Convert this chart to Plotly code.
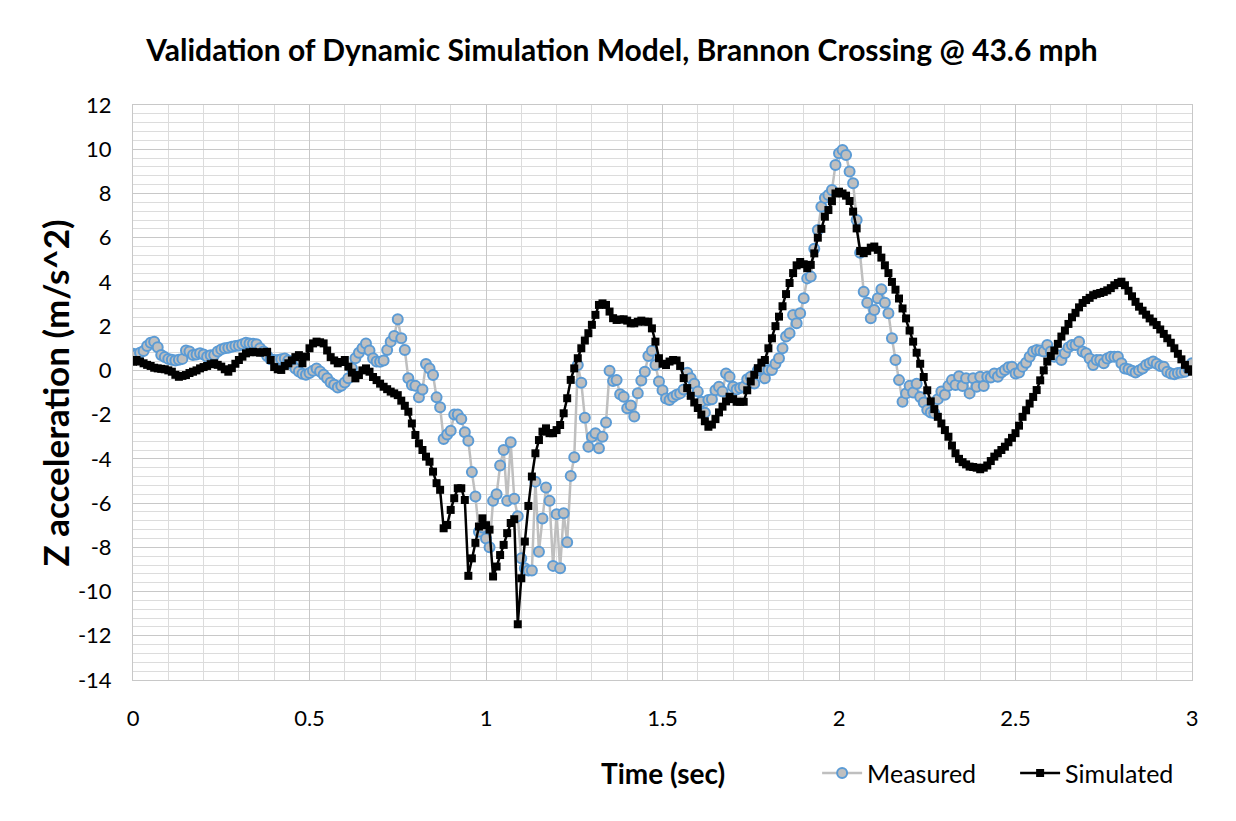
import plotly.graph_objects as go

# time base: samples every 0.01 s from 0 to 3 s
time_s = [round(i * 0.01, 2) for i in range(301)]

# measured z acceleration (m/s^2)
measured = [
    0.75, 0.72, 0.80, 0.88, 1.10, 1.25, 1.30, 1.05, 0.70, 0.60,
    0.52, 0.48, 0.45, 0.48, 0.52, 0.90, 0.85, 0.70, 0.72, 0.77,
    0.72, 0.62, 0.68, 0.70, 0.85, 0.95, 1.00, 1.02, 1.07, 1.10,
    1.12, 1.18, 1.25, 1.22, 1.20, 1.18, 1.00, 0.85, 0.65, 0.50,
    0.47, 0.47, 0.50, 0.54, 0.45, 0.30, 0.09, -0.05, -0.15, -0.20,
    -0.12, -0.02, 0.09, -0.05, -0.20, -0.36, -0.55, -0.65, -0.77, -0.70,
    -0.55, -0.36, 0.10, 0.55, 0.80, 1.00, 1.22, 0.90, 0.55, 0.40,
    0.39, 0.45, 0.92, 1.30, 1.55, 2.31, 1.45, 0.92, -0.36, -0.66,
    -0.70, -1.22, -0.86, 0.29, 0.09, -0.21, -1.22, -1.67, -3.10, -2.90,
    -2.73, -2.00, -2.00, -2.20, -2.80, -3.18, -4.60, -5.70, -7.30, -7.10,
    -7.60, -8.00, -5.90, -5.60, -4.30, -3.60, -5.90, -3.25, -5.80, -6.60,
    -8.50, -8.95, -9.05, -9.05, -5.03, -8.20, -6.70, -5.30, -5.90, -8.84,
    -6.50, -8.95, -6.46, -7.77, -4.77, -3.93, 0.24, -0.56, -2.14, -3.45,
    -3.00, -2.84, -3.52, -3.00, -2.36, -0.02, -0.48, -0.44, -1.08, -1.19,
    -1.71, -1.59, -2.09, -1.03, -0.46, -0.06, 0.65, 0.89, 0.24, -0.50,
    -0.90, -1.27, -1.34, -1.20, -1.10, -1.04, -0.86, -0.11, -0.35, -0.60,
    -0.96, -1.42, -1.91, -1.34, -1.31, -0.90, -0.74, -0.96, -0.14, -0.29,
    -0.74, -0.86, -0.80, -0.74, -0.40, -0.29, -0.59, 0.00, 0.09, -0.36,
    0.02, 0.02, 0.30, 0.55, 1.00, 1.53, 1.68, 2.50, 2.13, 2.58,
    3.26, 4.16, 4.24, 5.50, 6.35, 7.40, 7.80, 7.93, 8.16, 9.29,
    9.82, 9.97, 9.74, 8.99, 8.46, 6.80, 5.32, 3.56, 3.06, 2.36,
    2.73, 3.26, 3.67, 3.06, 2.58, 1.45, 0.47, -0.44, -1.42, -1.04,
    -0.70, -1.00, -0.60, -1.20, -1.45, -1.79, -1.90, -1.94, -1.30, -0.95,
    -1.10, -0.70, -0.44, -0.66, -0.26, -0.71, -0.36, -1.04, -0.36, -0.74,
    -0.29, -0.71, -0.29, -0.32, -0.14, -0.29, -0.10, 0.02, 0.14, 0.17,
    -0.14, -0.10, 0.17, 0.35, 0.62, 0.85, 0.92, 0.90, 0.85, 1.15,
    0.85, 0.62, 0.69, 0.47, 0.77, 1.04, 1.15, 1.15, 1.30, 0.85,
    0.77, 0.54, 0.24, 0.47, 0.47, 0.32, 0.54, 0.62, 0.62, 0.62,
    0.32, 0.09, 0.05, -0.02, -0.10, 0.00, 0.09, 0.24, 0.32, 0.40,
    0.30, 0.20, 0.17, -0.06, -0.14, -0.17, -0.12, -0.10, -0.06, 0.09,
    0.32,
]

# simulated z acceleration (m/s^2)
simulated = [
    0.39, 0.47, 0.40, 0.32, 0.25, 0.20, 0.12, 0.09, 0.07, 0.05,
    0.00, -0.06, -0.20, -0.29, -0.25, -0.21, -0.12, -0.06, 0.00, 0.09,
    0.15, 0.20, 0.28, 0.32, 0.25, 0.17, 0.05, -0.06, 0.10, 0.30,
    0.47, 0.62, 0.77, 0.82, 0.84, 0.82, 0.80, 0.82, 0.84, 0.47,
    0.15, 0.05, 0.02, 0.20, 0.32, 0.45, 0.60, 0.69, 0.32, 0.62,
    1.00, 1.22, 1.30, 1.27, 1.22, 0.90, 0.60, 0.45, 0.32, 0.38,
    0.47, 0.17, -0.10, -0.36, -0.21, 0.00, 0.09, -0.06, -0.30, -0.44,
    -0.60, -0.74, -0.85, -0.96, -1.04, -1.12, -1.37, -1.60, -1.87, -2.40,
    -2.92, -3.30, -3.60, -3.90, -4.13, -4.58, -5.10, -5.40, -7.14, -6.99,
    -6.31, -5.78, -5.33, -5.33, -5.86, -9.29, -8.50, -7.80, -7.06, -6.69,
    -7.00, -7.20, -9.32, -8.87, -8.35, -7.89, -7.36, -6.90, -6.73, -11.48,
    -9.40, -7.74, -6.13, -4.80, -3.75, -3.15, -2.77, -2.62, -2.84, -2.84,
    -2.70, -2.47, -1.94, -1.26, -0.43, 0.09, 0.55, 1.00, 1.35, 1.68,
    2.06, 2.51, 2.96, 3.03, 2.96, 2.66, 2.36, 2.28, 2.30, 2.31,
    2.25, 2.13, 2.13, 2.20, 2.25, 2.20, 2.20, 1.90, 1.30, 0.55,
    0.30, 0.24, 0.40, 0.47, 0.45, 0.20, -0.35, -0.80, -1.15, -1.45,
    -1.70, -2.00, -2.30, -2.55, -2.45, -2.20, -1.90, -1.64, -1.40, -1.19,
    -1.30, -1.42, -1.42, -1.42, -0.90, -0.50, -0.20, 0.10, 0.35, 0.47,
    1.00, 1.45, 2.00, 2.43, 2.90, 3.45, 3.95, 4.40, 4.75, 4.90,
    4.80, 4.62, 4.77, 5.29, 6.00, 6.40, 6.95, 7.25, 7.65, 8.00,
    8.08, 8.00, 7.90, 7.66, 7.18, 6.42, 5.40, 5.30, 5.40, 5.55,
    5.60, 5.45, 5.10, 4.75, 4.40, 4.00, 3.65, 3.25, 2.80, 2.35,
    1.80, 1.30, 0.80, 0.30, -0.30, -0.90, -1.40, -1.75, -2.10, -2.40,
    -2.70, -3.00, -3.40, -3.75, -4.00, -4.15, -4.25, -4.35, -4.37, -4.40,
    -4.47, -4.40, -4.30, -4.10, -3.90, -3.75, -3.60, -3.45, -3.25, -3.05,
    -2.84, -2.50, -2.10, -1.80, -1.50, -1.20, -0.89, -0.45, 0.00, 0.40,
    0.65, 0.90, 1.20, 1.53, 1.80, 2.10, 2.40, 2.60, 2.85, 3.05,
    3.18, 3.28, 3.40, 3.46, 3.50, 3.55, 3.62, 3.72, 3.85, 3.95,
    4.01, 3.85, 3.60, 3.35, 3.10, 2.88, 2.70, 2.52, 2.35, 2.20,
    2.05, 1.85, 1.65, 1.45, 1.25, 1.00, 0.75, 0.50, 0.25, 0.05,
    -0.06,
]

# y tick positions and labels (plain hyphen as in the original)
y_ticks = [-14, -12, -10, -8, -6, -4, -2, 0, 2, 4, 6, 8, 10, 12]
y_labels = [str(v) for v in y_ticks]

font = "Lato"
W, H = 1228, 813  # page adds an 8px body margin

fig = go.Figure()
fig.add_trace(go.Scatter(
    x=time_s, y=measured, name="Measured", mode="lines+markers",
    line=dict(color="#bfbfbf", width=2.5),
    marker=dict(symbol="circle", size=10, color="#bfbfbf",
                line=dict(color="#5b9bd5", width=2)),
))
fig.add_trace(go.Scatter(
    x=time_s, y=simulated, name="Simulated", mode="lines+markers",
    line=dict(color="#000000", width=2.5),
    marker=dict(symbol="square", size=8, color="#000000"),
))

grid_major = "#c8c8c8"
grid_minor = "#dcdcdc"

fig.update_xaxes(
    range=[0, 3], dtick=0.5, tick0=0,
    showgrid=True, gridcolor=grid_major, gridwidth=1,
    minor=dict(dtick=0.1, showgrid=True, gridcolor=grid_minor, gridwidth=1),
    zeroline=False, showline=True, linecolor=grid_major, mirror=True,
    ticks="", ticklabelstandoff=19,
    tickfont=dict(family=font, size=22, color="#000000"),
)
fig.update_yaxes(
    range=[-14, 12], tickmode="array", tickvals=y_ticks, ticktext=y_labels,
    showgrid=True, gridcolor=grid_major, gridwidth=1,
    minor=dict(dtick=0.4, tick0=0, showgrid=True, gridcolor=grid_minor, gridwidth=1),
    zeroline=False, showline=True, linecolor=grid_major, mirror=True,
    ticks="", ticklabelstandoff=16,
    tickfont=dict(family=font, size=22, color="#000000"),
)

fig.update_layout(
    width=W, height=H,
    margin=dict(l=125, r=44, t=97, b=141),
    paper_bgcolor="white", plot_bgcolor="white",
    title=dict(
        text="<b>Validation of Dynamic Simulation Model, Brannon Crossing @ 43.6 mph</b>",
        x=0.5, xanchor="center", y=1 - 42 / H, yanchor="middle",
        font=dict(family=font, size=30, color="#000000"),
    ),
    showlegend=True,
    legend=dict(
        orientation="h", x=0.646, xanchor="left", y=-0.162, yanchor="middle",
        font=dict(family=font, size=25, color="#000000"),
        bgcolor="rgba(0,0,0,0)", itemwidth=40,
        entrywidth=143, entrywidthmode="pixels",
    ),
    annotations=[
        dict(text="<b>Time (sec)</b>", xref="paper", yref="paper",
             x=0.5, y=-0.162, xanchor="center", yanchor="middle",
             showarrow=False, font=dict(family=font, size=28, color="#000000")),
        dict(text="<b>Z acceleration (m/s^2)</b>", xref="paper", yref="paper",
             x=-0.0737, y=0.5, xanchor="center", yanchor="middle", textangle=-90,
             showarrow=False, font=dict(family=font, size=35, color="#000000")),
    ],
)

fig.write_html("out.html")
